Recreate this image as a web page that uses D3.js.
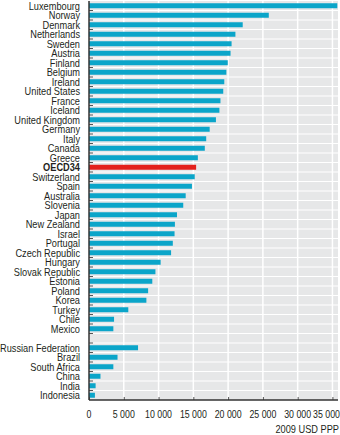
<!DOCTYPE html>
<html>
<head>
<meta charset="utf-8">
<script src="https://cdn.jsdelivr.net/npm/d3@7"></script>
<style>
  html, body { margin: 0; padding: 0; background: #fff; }
  svg text { font-family: "Liberation Sans", Arial, sans-serif; font-size: 11px; fill: #231f20; }
</style>
</head>
<body>
<div id="chart"></div>
<script>
// OECD members, sorted high to low (2009 USD PPP)
const oecdCountries = ['Luxembourg', 'Norway', 'Denmark', 'Netherlands', 'Sweden', 'Austria', 'Finland',
  'Belgium', 'Ireland', 'United States', 'France', 'Iceland', 'United Kingdom', 'Germany', 'Italy',
  'Canada', 'Greece', 'OECD34', 'Switzerland', 'Spain', 'Australia', 'Slovenia', 'Japan', 'New Zealand',
  'Israel', 'Portugal', 'Czech Republic', 'Hungary', 'Slovak Republic', 'Estonia', 'Poland', 'Korea',
  'Turkey', 'Chile', 'Mexico'];
const oecdValues = [35700, 25850, 22100, 21050, 20500, 20350, 19950, 19750, 19450, 19300, 18900, 18750,
  18250, 17350, 16850, 16650, 15650, 15400, 15200, 14800, 13900, 13550, 12650, 12350, 12300, 12050,
  11800, 10300, 9550, 9100, 8500, 8250, 5650, 3600, 3500];

// key partner economies, shown below a gap
const partnerCountries = ['Russian Federation', 'Brazil', 'South Africa', 'China', 'India', 'Indonesia'];
const partnerValues = [7050, 4100, 3500, 1650, 950, 850];

const xTicks = [0, 5000, 10000, 15000, 20000, 25000, 30000, 35000];
const unitLabel = '2009 USD PPP';

const W = 340, H = 435;
const m = { left: 89, right: 338, top: 1, bottom: 400 };
const squeeze = 0.84;   // condensed look for all labels

const rows = oecdCountries.map((c, i) => ({ name: c, value: oecdValues[i] }))
  .concat([{ name: '__gap', value: null }])
  .concat(partnerCountries.map((c, i) => ({ name: c, value: partnerValues[i] })));

const svg = d3.select('#chart').append('svg')
  .attr('width', W).attr('height', H);

const x = d3.scaleLinear().domain([0, 35800]).range([m.left, m.right]);
const y = d3.scaleBand().domain(rows.map(d => d.name)).range([m.top, m.bottom]);

// grey plot panel
svg.append('rect')
  .attr('x', m.left).attr('y', m.top)
  .attr('width', m.right - m.left).attr('height', m.bottom - m.top)
  .attr('fill', '#e6e7e8');

// white grid: verticals at ticks, horizontals between rows
svg.append('g').selectAll('line')
  .data(xTicks.slice(1)).enter().append('line')
  .attr('x1', d => x(d)).attr('x2', d => x(d))
  .attr('y1', m.top).attr('y2', m.bottom)
  .attr('stroke', '#fff').attr('stroke-width', 1.5);

svg.append('g').selectAll('line')
  .data(rows.slice(1)).enter().append('line')
  .attr('x1', m.left).attr('x2', m.right)
  .attr('y1', d => y(d.name)).attr('y2', d => y(d.name))
  .attr('stroke', '#fff').attr('stroke-width', 1.2);

// bars
const barH = 5;
svg.append('g').selectAll('rect')
  .data(rows.filter(d => d.value !== null)).enter().append('rect')
  .attr('x', x(0))
  .attr('y', d => y(d.name) + (y.bandwidth() - barH) / 2)
  .attr('width', d => x(d.value) - x(0))
  .attr('height', barH)
  .attr('fill', d => d.name === 'OECD34' ? '#e3211c' : '#0ba5c9');

// short inward ticks on the category axis
svg.append('g').selectAll('line')
  .data(rows.slice(1)).enter().append('line')
  .attr('x1', m.left).attr('x2', m.left + 4)
  .attr('y1', d => y(d.name)).attr('y2', d => y(d.name))
  .attr('stroke', '#555').attr('stroke-width', 1);

// category labels
svg.append('g').selectAll('text')
  .data(rows.filter(d => d.value !== null)).enter().append('text')
  .attr('transform', d => `translate(${m.left - 9},${y(d.name) + y.bandwidth() / 2}) scale(${squeeze},1)`)
  .attr('dy', '0.36em')
  .attr('text-anchor', 'end')
  .attr('font-weight', d => d.name === 'OECD34' ? 'bold' : 'normal')
  .text(d => d.name);

// value axis ticks
const xAxis = d3.axisBottom(x)
  .tickValues(xTicks)
  .tickSize(-3)
  .tickFormat(() => '');

const gx = svg.append('g')
  .attr('transform', `translate(0,${m.bottom})`)
  .call(xAxis);
gx.select('.domain').remove();
gx.selectAll('.tick line').attr('stroke', '#555');

// tick labels with a space as thousands separator; the last one kept inside the frame
const fmt = d => d3.format(',')(d).replace(/,/g, ' ');
const last = xTicks.length - 1;
svg.append('g').selectAll('text')
  .data(xTicks).enter().append('text')
  .attr('transform', (d, i) => `translate(${i === last ? W : x(d)},${m.bottom + 14}) scale(0.8,1)`)
  .attr('dy', '0.36em')
  .attr('text-anchor', (d, i) => i === last ? 'end' : 'middle')
  .text(fmt);

// axis lines
svg.append('line')
  .attr('x1', m.left).attr('x2', m.right)
  .attr('y1', m.bottom).attr('y2', m.bottom)
  .attr('stroke', '#333').attr('stroke-width', 1.5);
svg.append('line')
  .attr('x1', m.left).attr('x2', m.left)
  .attr('y1', m.top).attr('y2', m.bottom)
  .attr('stroke', '#333').attr('stroke-width', 1.5);

svg.append('text')
  .attr('transform', `translate(${W - 1},429) scale(${squeeze},1)`)
  .attr('dy', '0.36em')
  .attr('text-anchor', 'end')
  .text(unitLabel);
</script>
</body>
</html>
